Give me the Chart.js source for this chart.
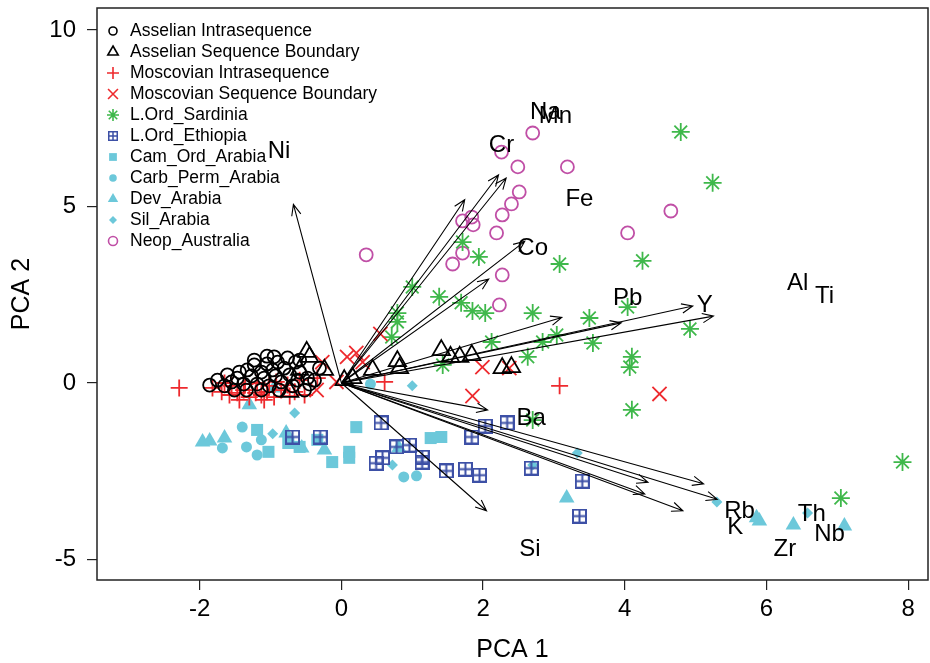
<!DOCTYPE html>
<html>
<head>
<meta charset="utf-8">
<script src="https://cdn.jsdelivr.net/npm/chart.js@4"></script>
<style>
html,body{margin:0;padding:0;background:#fff;}
#wrap{width:930px;height:663px;}
</style>
</head>
<body>
<div id="wrap"><canvas id="pca" width="930" height="663"></canvas></div>
<script>
// groups of samples, [PCA1, PCA2]
const asselianIntra = [[-1.86,-0.06],[-1.75,0.08],[-1.65,-0.08],[-1.55,0.03],[-1.47,0.14],[-1.38,-0.03],[-1.33,0.37],[-1.27,0.20],[-1.23,0.51],[-1.19,-0.03],[-1.13,0.31],[-1.09,0.14],[-1.05,0.54],[-1.02,-0.08],[-0.97,0.37],[-0.93,0.20],[-0.90,0.59],[-0.85,0.03],[-0.81,0.42],[-0.76,0.71],[-0.73,0.23],[-0.69,-0.08],[-0.65,0.59],[-0.62,0.08],[-0.59,0.31],[-0.52,-0.20],[-0.48,0.14],[-0.45,-0.03],[-1.34,-0.20],[-1.51,-0.20],[-1.13,-0.20],[-0.88,-0.20],[-1.44,0.31],[-1.23,0.65],[-1.05,0.76],[-0.95,0.74],[-0.59,0.65],[-0.38,0.08],[-0.31,0.42],[-1.61,0.23]];
const asselianSB = [[1.41,0.93],[1.54,0.74],[1.67,0.74],[1.84,0.79],[2.27,0.42],[2.40,0.45],[0.79,0.62],[0.82,0.42],[0.44,0.37],[0.16,0.14],[-0.49,0.88],[-0.45,0.74],[-0.59,0.37],[-0.24,0.37],[-0.73,-0.25],[0.04,0.08]];
const moscovianIntra = [[-2.29,-0.14],[-1.82,-0.14],[-1.69,-0.25],[-1.58,-0.34],[-1.47,-0.28],[-1.38,-0.20],[-1.30,-0.40],[-1.21,-0.28],[-1.13,-0.34],[-1.05,-0.25],[-0.95,-0.40],[-0.85,-0.20],[-0.76,-0.06],[-0.66,-0.25],[-0.59,0.08],[-1.55,-0.08],[-1.36,-0.03],[-1.19,0.00],[-1.02,-0.08],[-1.65,0.00],[-0.92,0.03],[-0.73,-0.37],[-0.52,-0.34],[-0.34,0.14],[-1.09,-0.48],[-1.44,-0.48],[3.08,-0.08],[0.61,0.03]];
const moscovianSB = [[0.55,1.39],[0.08,0.74],[0.21,0.85],[0.30,0.59],[1.99,0.45],[2.37,0.42],[1.85,-0.37],[4.49,-0.31],[-0.27,0.59],[-0.35,-0.20],[-0.07,0.03]];
const sardinia = [[4.79,7.11],[5.24,5.67],[4.25,3.46],[3.08,3.37],[1.71,3.99],[1.94,3.57],[1.00,2.72],[1.38,2.44],[1.69,2.27],[1.85,2.04],[2.03,1.98],[2.70,1.98],[0.79,1.98],[0.79,1.73],[0.71,1.30],[2.12,1.16],[3.50,1.84],[4.04,2.15],[4.92,1.53],[3.04,1.36],[3.55,1.13],[2.84,1.16],[2.63,0.74],[1.43,0.51],[4.10,0.74],[4.07,0.45],[4.10,-0.76],[2.70,-1.05],[7.92,-2.24],[7.05,-3.26]];
const ethiopia = [[-0.69,-1.53],[-0.30,-1.53],[0.56,-1.13],[0.78,-1.81],[0.96,-1.76],[0.58,-2.12],[0.49,-2.27],[1.14,-2.24],[1.14,-2.10],[1.48,-2.49],[1.75,-2.44],[1.95,-2.61],[1.84,-1.53],[2.03,-1.22],[2.34,-1.13],[2.68,-2.41],[3.40,-2.78],[3.36,-3.77]];
const camOrd = [[-1.19,-1.33],[0.21,-1.25],[0.11,-1.95],[0.11,-2.12],[-0.13,-2.24],[-1.03,-1.95],[-0.75,-1.70],[-0.59,-1.81],[1.26,-1.56],[1.41,-1.53],[-0.34,-1.61]];
const carbPerm = [[0.41,-0.03],[0.88,-2.66],[1.06,-2.63],[-1.40,-1.25],[-1.34,-1.81],[-1.19,-2.04],[-1.68,-1.84],[-1.13,-1.61]];
const devArabia = [[-1.96,-1.67],[-1.86,-1.64],[-1.65,-1.56],[-0.78,-1.42],[-0.56,-1.84],[-0.24,-1.90],[-1.30,-0.62],[-0.95,-0.14],[0.81,-1.84],[3.18,-3.26],[5.90,-3.91],[6.38,-4.02],[7.10,-4.05],[5.86,-3.82]];
const silArabia = [[-0.66,-0.85],[-0.97,-1.44],[1.00,-0.08],[0.72,-2.32],[3.33,-1.98],[2.70,-2.32],[5.30,-3.37],[6.58,-3.68]];
const neopAustralia = [[2.70,7.08],[2.26,6.54],[2.49,6.12],[3.19,6.12],[2.51,5.41],[2.40,5.07],[2.27,4.76],[1.84,4.70],[1.71,4.59],[1.86,4.48],[2.19,4.25],[4.04,4.25],[4.65,4.87],[0.35,3.63],[1.71,3.68],[1.57,3.37],[2.27,3.06],[2.23,2.21]];

// element loadings (label positions)
const elements = ['Ni','Na','Mn','Cr','Fe','Co','Pb','Y','Al','Ti','Ba','Si','Rb','K','Th','Nb','Zr'];
const loadX = [-0.88,2.88,3.02,2.26,3.36,2.70,4.04,5.13,6.44,6.82,2.68,2.66,5.62,5.56,6.64,6.89,6.26];
const loadY = [6.57,7.65,7.54,6.74,5.21,3.82,2.41,2.21,2.83,2.46,-0.99,-4.70,-3.65,-4.08,-3.71,-4.28,-4.70];
const arrowScale = 0.77;

const xTicks = [-2,0,2,4,6,8];
const yTicks = [-5,0,5,10];

const groupNames = ['Asselian Intrasequence','Asselian Sequence Boundary','Moscovian Intrasequence','Moscovian Sequence Boundary','L.Ord_Sardinia','L.Ord_Ethiopia','Cam_Ord_Arabia','Carb_Perm_Arabia','Dev_Arabia','Sil_Arabia','Neop_Australia'];

const RED = '#ee2a2e', GREEN = '#3fb84b', BLUE = '#3d50a6', CYAN = '#6cc8da', MAGENTA = '#c04fa6';
const FONT = '"Liberation Sans", Arial, sans-serif';

// square with a plus inside (R pch 12)
function boxPlus(size, color, lw) {
  const c = document.createElement('canvas');
  c.width = size; c.height = size;
  const g = c.getContext('2d');
  g.strokeStyle = color; g.lineWidth = lw;
  const o = lw / 2;
  g.strokeRect(o, o, size - lw, size - lw);
  g.beginPath();
  g.moveTo(size / 2, o); g.lineTo(size / 2, size - o);
  g.moveTo(o, size / 2); g.lineTo(size - o, size / 2);
  g.stroke();
  return c;
}
const boxPlusBig = boxPlus(15, BLUE, 2);
const boxPlusSmall = boxPlus(10, BLUE, 1.5);

const pts = arr => arr.map(p => ({x: p[0], y: p[1]}));

function ds(i, data, style, radius, color, fill, lw, legendRadius, legendStyle) {
  return {
    label: groupNames[i], data: pts(data), pointStyle: style, pointRadius: radius,
    pointHoverRadius: radius, borderColor: color, backgroundColor: fill,
    pointBorderWidth: lw, showLine: false, legendRadius: legendRadius,
    legendStyle: legendStyle || style
  };
}

const NONE = 'rgba(0,0,0,0)';
const datasets = [
  ds(0, asselianIntra, 'circle', 6.5, '#000', NONE, 1.8, 4),
  ds(1, asselianSB, 'triangle', 10, '#000', NONE, 1.8, 6),
  ds(2, moscovianIntra, 'cross', 8.5, RED, RED, 1.8, 6),
  ds(3, moscovianSB, 'crossRot', 10, RED, RED, 1.8, 7),
  ds(4, sardinia, 'star', 9, GREEN, GREEN, 1.8, 6),
  ds(5, ethiopia, boxPlusBig, 7, BLUE, BLUE, 1.8, 5, boxPlusSmall),
  ds(6, camOrd, 'rect', 8.5, CYAN, CYAN, 0, 5.5),
  ds(7, carbPerm, 'circle', 5.5, CYAN, CYAN, 0, 3.8),
  ds(8, devArabia, 'triangle', 9, CYAN, CYAN, 0, 6),
  ds(9, silArabia, 'rectRot', 5.5, CYAN, CYAN, 0, 4),
  ds(10, neopAustralia, 'circle', 6.5, MAGENTA, NONE, 1.8, 4.5)
];

const biplotPlugin = {
  id: 'biplot',
  afterDatasetsDraw(chart) {
    const {ctx, scales: {x, y}} = chart;
    const ox = x.getPixelForValue(0), oy = y.getPixelForValue(0);
    ctx.save();
    ctx.strokeStyle = '#000';
    ctx.lineWidth = 1.1;
    loadX.forEach((lx, i) => {
      const tx = x.getPixelForValue(lx * arrowScale);
      const ty = y.getPixelForValue(loadY[i] * arrowScale);
      const a = Math.atan2(ty - oy, tx - ox);
      ctx.beginPath();
      ctx.moveTo(ox, oy); ctx.lineTo(tx, ty);
      ctx.moveTo(tx - 12 * Math.cos(a - 0.4), ty - 12 * Math.sin(a - 0.4));
      ctx.lineTo(tx, ty);
      ctx.lineTo(tx - 12 * Math.cos(a + 0.4), ty - 12 * Math.sin(a + 0.4));
      ctx.stroke();
    });
    ctx.fillStyle = '#000';
    ctx.font = '24px ' + FONT;
    ctx.textAlign = 'center';
    ctx.textBaseline = 'middle';
    elements.forEach((el, i) => {
      ctx.fillText(el, x.getPixelForValue(loadX[i]), y.getPixelForValue(loadY[i]));
    });
    ctx.restore();
  },
  afterDraw(chart) {
    const {ctx, chartArea: a} = chart;
    ctx.save();
    ctx.strokeStyle = '#222';
    ctx.lineWidth = 1.5;
    ctx.strokeRect(a.left, a.top, a.right - a.left, a.bottom - a.top);
    // axis titles
    ctx.fillStyle = '#000';
    ctx.font = '25px ' + FONT;
    ctx.textAlign = 'center';
    ctx.textBaseline = 'middle';
    ctx.fillText('PCA 1', (a.left + a.right) / 2, 650);
    ctx.save();
    ctx.translate(22, (a.top + a.bottom) / 2);
    ctx.rotate(-Math.PI / 2);
    ctx.fillText('PCA 2', 0, 0);
    ctx.restore();
    // legend
    ctx.font = '17.5px ' + FONT;
    ctx.textAlign = 'left';
    chart.data.datasets.forEach((d, i) => {
      const ly = 31 + i * 21;
      ctx.fillStyle = d.backgroundColor;
      ctx.strokeStyle = d.borderColor;
      ctx.lineWidth = 1.6;
      Chart.helpers.drawPoint(ctx, {
        pointStyle: d.legendStyle, radius: d.legendRadius, rotation: 0,
        borderWidth: d.pointBorderWidth ? 1.6 : 0
      }, 113, ly);
      ctx.fillStyle = '#000';
      ctx.fillText(d.label, 130, ly);
    });
    ctx.restore();
  }
};

new Chart(document.getElementById('pca'), {
  type: 'scatter',
  data: {datasets},
  plugins: [biplotPlugin],
  options: {
    responsive: false,
    animation: false,
    devicePixelRatio: 1,
    layout: {autoPadding: false, padding: {top: 8, right: 2, left: 0, bottom: 0}},
    plugins: {legend: {display: false}, tooltip: {enabled: false}},
    scales: {
      x: {
        type: 'linear', min: -3.45, max: 8.28,
        afterBuildTicks: s => { s.ticks = xTicks.map(v => ({value: v})); },
        afterFit: s => { s.height = 83; s.paddingLeft = 0; s.paddingRight = 0; },
        grid: {drawOnChartArea: false, drawTicks: true, tickLength: 10, color: '#222', lineWidth: 1.2},
        border: {display: false},
        ticks: {color: '#000', padding: 5, maxRotation: 0, font: {size: 24, family: FONT}}
      },
      y: {
        type: 'linear', min: -5.58, max: 10.62,
        afterBuildTicks: s => { s.ticks = yTicks.map(v => ({value: v})); },
        afterFit: s => { s.width = 97; s.paddingTop = 0; s.paddingBottom = 0; },
        grid: {drawOnChartArea: false, drawTicks: true, tickLength: 10, color: '#222', lineWidth: 1.2},
        border: {display: false},
        ticks: {color: '#000', padding: 11, font: {size: 24, family: FONT}}
      }
    }
  }
});
</script>
</body>
</html>
